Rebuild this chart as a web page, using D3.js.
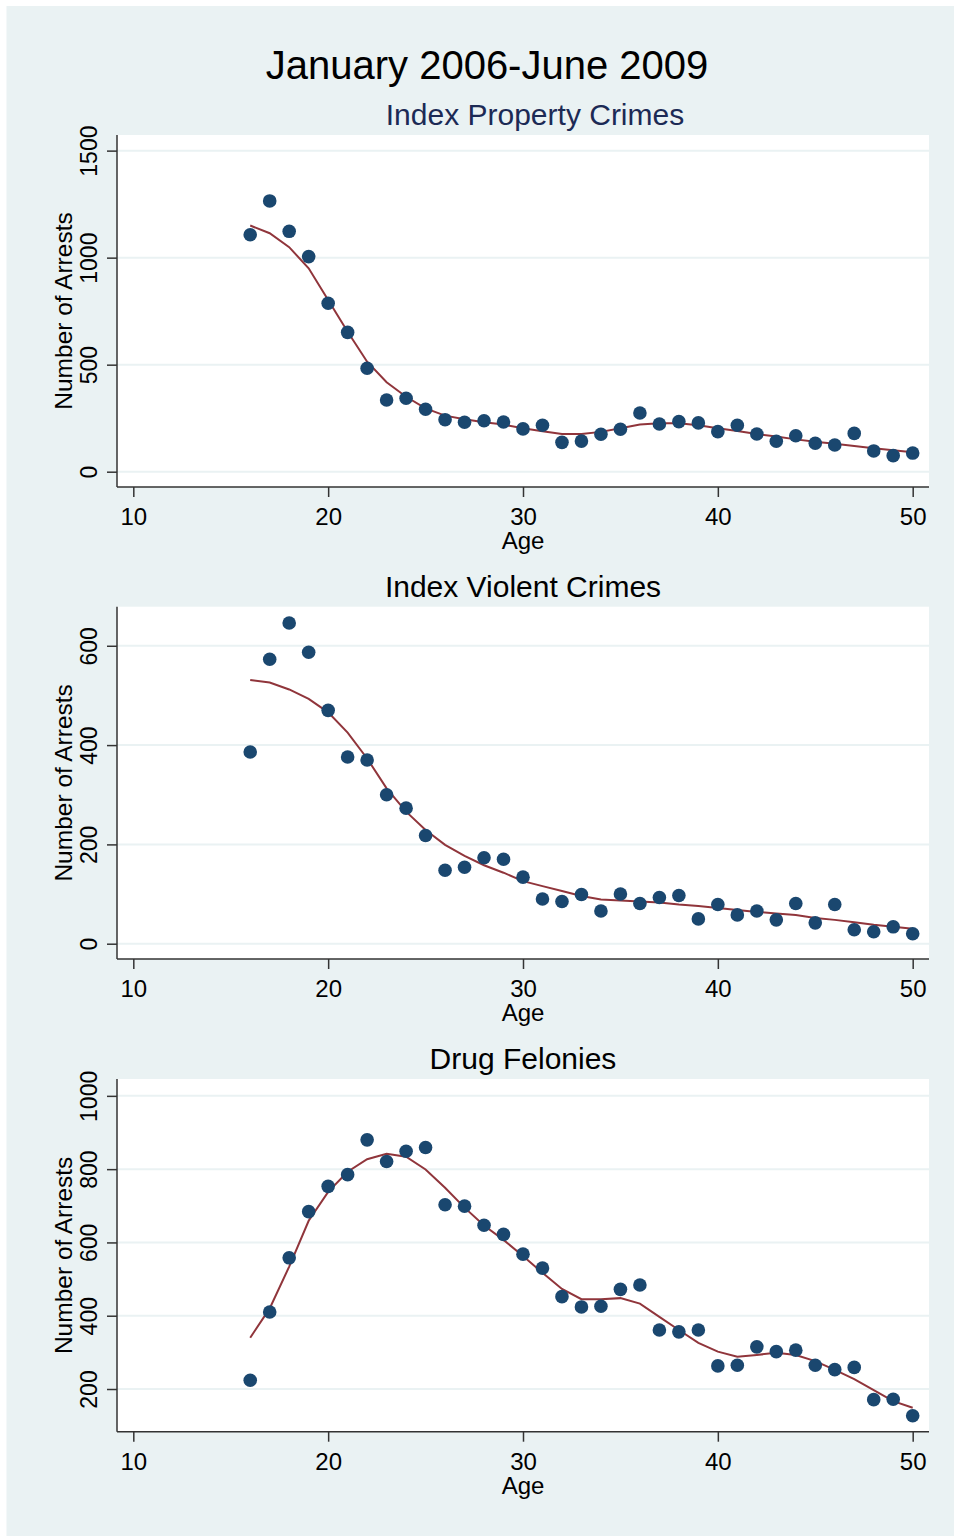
<!DOCTYPE html>
<html><head><meta charset="utf-8">
<script src="https://cdn.jsdelivr.net/npm/d3@7"></script>
<style>body{margin:0;background:#fff;} svg{display:block;font-family:"Liberation Sans",Arial,sans-serif;}</style>
</head><body>
<script>
const ages = d3.range(16, 51);
const xTicks = [10, 20, 30, 40, 50];

const propertyTitle = "Index Property Crimes";
const propertyPoints = [1107,1265,1123,1005,787,651,483,335,343,292,243,231,238,232,200,217,137,143,175,198,274,223,234,228,187,217,176,142,168,133,125,179,97,75,87];
const propertyFit = [1150,1114,1049,950,802,654,514,418,350,296,262,245,231,220,203,189,176,176,186,203,220,226,226,217,203,190,176,164,151,140,131,120,109,100,91];
const propertyTicks = [0, 500, 1000, 1500];

const violentTitle = "Index Violent Crimes";
const violentPoints = [386,573,646,587,470,376,370,300,273,218,148,154,173,170,134,90,85,99,66,100,81,93,97,50,79,58,66,48,81,42,79,28,24,34,20];
const violentFit = [531,526,512,493,466,425,373,313,266,229,199,177,158,143,126,116,106,96,89,87,85,83,79,76,72,68,64,61,58,52,48,43,38,34,30];
const violentTicks = [0, 200, 400, 600];

const drugTitle = "Drug Felonies";
const drugPoints = [224,410,558,684,753,785,880,821,849,859,703,699,647,622,568,530,452,424,426,472,484,361,356,361,263,265,315,302,306,265,253,259,171,172,127];
const drugFit = [340,420,534,659,738,793,827,842,834,799,749,695,646,607,563,517,473,445,445,448,433,397,361,326,302,288,293,299,293,276,252,227,197,167,149];
const drugTicks = [200, 400, 600, 800, 1000];

const W = 954, H = 1536;
const svg = d3.select("body").append("svg").attr("width", W).attr("height", H);
svg.append("rect").attr("x", 6.5).attr("y", 6).attr("width", W - 6.5).attr("height", H - 6).attr("fill", "#eaf2f3");

svg.append("text").attr("x", 487).attr("y", 79).attr("text-anchor", "middle")
  .attr("font-size", 40).attr("fill", "#000").text("January 2006-June 2009");

const panels = [
  {title: propertyTitle, titleColor: "#1c2a55", titleX: 535, points: propertyPoints, fit: propertyFit, ticks: propertyTicks,
   top: 135, bottom: 487, domain: [-71.5, 1573], titleY: 125},
  {title: violentTitle, titleColor: "#000", titleX: 523, points: violentPoints, fit: violentFit, ticks: violentTicks,
   top: 606.7, bottom: 959, domain: [-30.8, 678.7], titleY: 597},
  {title: drugTitle, titleColor: "#000", titleX: 523, points: drugPoints, fit: drugFit, ticks: drugTicks,
   top: 1079, bottom: 1431.7, domain: [83.5, 1046], titleY: 1069}
];

const left = 117, right = 929;
const x = d3.scaleLinear().domain([9.163, 50.837]).range([left, right]);

panels.forEach(p => {
  const y = d3.scaleLinear().domain(p.domain).range([p.bottom, p.top]);
  const g = svg.append("g");
  g.append("rect").attr("x", left).attr("y", p.top).attr("width", right - left).attr("height", p.bottom - p.top).attr("fill", "#fff");
  g.selectAll(".grid").data(p.ticks).join("line")
    .attr("x1", left).attr("x2", right).attr("y1", d => y(d)).attr("y2", d => y(d))
    .attr("stroke", "#eaf2f3").attr("stroke-width", 2);
  const line = d3.line().x((d, i) => x(ages[i])).y(d => y(d));
  g.append("path").datum(p.fit).attr("d", line).attr("fill", "none").attr("stroke", "#90353b").attr("stroke-width", 2);
  g.selectAll(".pt").data(p.points).join("circle")
    .attr("cx", (d, i) => x(ages[i])).attr("cy", d => y(d)).attr("r", 6.8).attr("fill", "#1a476f");
  const yAxis = d3.axisLeft(y).tickValues(p.ticks).tickSize(10).tickPadding(0).tickFormat(d3.format("d"));
  const ya = g.append("g").attr("transform", `translate(${left},0)`).call(yAxis);
  ya.select(".domain").attr("stroke", "#333").attr("stroke-width", 1.5).attr("d", `M0,${p.top}V${p.bottom}`);
  ya.selectAll(".tick line").attr("stroke", "#333").attr("stroke-width", 1.5);
  ya.selectAll(".tick text").attr("font-size", 23).attr("fill", "#000")
    .attr("transform", "translate(-20,0) rotate(-90)").attr("text-anchor", "middle").attr("x", 0).attr("y", 0).attr("dy", 0);
  const xAxis = d3.axisBottom(x).tickValues(xTicks).tickSize(10).tickPadding(0).tickFormat(d3.format("d"));
  const xa = g.append("g").attr("transform", `translate(0,${p.bottom})`).call(xAxis);
  xa.select(".domain").attr("stroke", "#333").attr("stroke-width", 1.5).attr("d", `M${left},0H${right}`);
  xa.selectAll(".tick line").attr("stroke", "#333").attr("stroke-width", 1.5);
  xa.selectAll(".tick text").attr("font-size", 24).attr("fill", "#000").attr("y", 38).attr("dy", 0);
  g.append("text").attr("x", 523).attr("y", p.bottom + 62).attr("text-anchor", "middle").attr("font-size", 24).text("Age");
  g.append("text").attr("transform", `translate(72,${(p.top + p.bottom) / 2}) rotate(-90)`).attr("text-anchor", "middle")
    .attr("font-size", 24.5).text("Number of Arrests");
  g.append("text").attr("x", p.titleX).attr("y", p.titleY).attr("text-anchor", "middle").attr("font-size", 30)
    .attr("fill", p.titleColor).text(p.title);
});
</script>
</body></html>
